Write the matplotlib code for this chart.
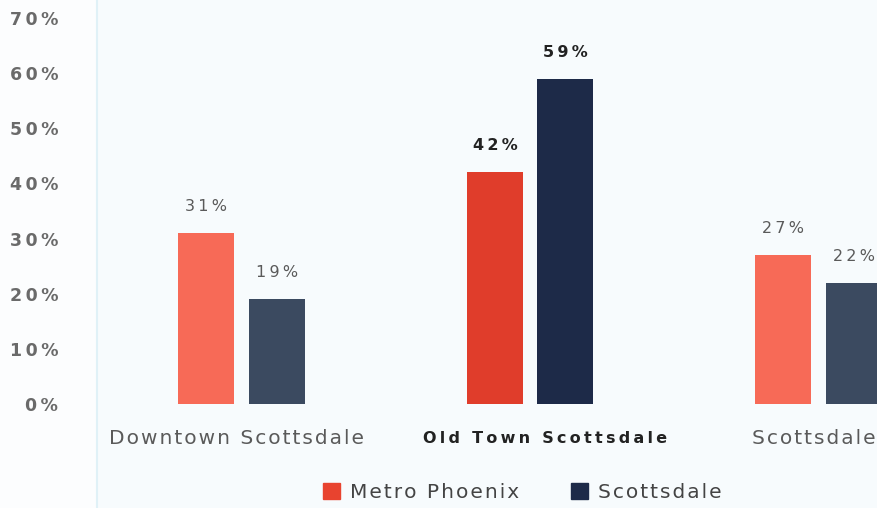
import matplotlib
matplotlib.use("Agg")
import matplotlib.pyplot as plt
from matplotlib.patches import Patch

# Share of respondents by area
categories = ["Downtown Scottsdale", "Old Town Scottsdale", "Scottsdale"]
metro_phoenix = [31, 42, 27]
scottsdale = [19, 59, 22]
y_ticks = [0, 10, 20, 30, 40, 50, 60, 70]
highlight = 1  # Old Town is the featured area

metro_soft, metro_strong = "#f76a57", "#e03d2b"
scot_soft, scot_strong = "#3b4a60", "#1d2a48"

HAIR, THIN = "\u200a", "\u2009"


def spaced(s, gap=HAIR):
    # Widen the tracking of a label
    return gap.join(s)


fig = plt.figure(figsize=(8.77, 5.08), dpi=100)
fig.patch.set_facecolor("#fcfdfe")
ax = fig.add_axes([97 / 877, 0, 1 - 97 / 877, 1])
ax.set_facecolor("#f7fbfd")

x = list(range(len(categories)))
w = 0.194
off = 0.1215
for i in x:
    hot = i == highlight
    ax.bar(i - off, metro_phoenix[i], w, color=metro_strong if hot else metro_soft)
    ax.bar(i + off, scottsdale[i], w, color=scot_strong if hot else scot_soft)
    for dx, v in ((-off, metro_phoenix[i]), (off, scottsdale[i])):
        ax.annotate(spaced(f"{v}%", THIN), (i + dx, v), xytext=(0, 19),
                    textcoords="offset points", ha="center", va="center",
                    fontsize=11.5, fontweight="bold" if hot else "normal",
                    color="#222222" if hot else "#5a5a5a")
    if hot:
        ax.text(i + 0.052, -6.2, spaced(categories[i], THIN),
                ha="center", va="center", fontsize=11.5, fontweight="bold",
                color="#222222")
    else:
        ax.text(i - 0.018, -6.2, spaced(categories[i]), ha="center",
                va="center", fontsize=14.5, color="#5a5a5a")

ax.set_xlim(-0.5009, 2.2027)
ax.set_ylim(-18.86, 73.26)
ax.set_yticks(y_ticks)
ax.set_yticklabels([spaced(f"{t}%", THIN) for t in y_ticks], fontsize=12.5,
                   fontweight="bold", color="#6a6a6a")
ax.tick_params(axis="y", length=0, pad=28)
ax.set_xticks([])
for s in ("top", "right", "bottom"):
    ax.spines[s].set_visible(False)
ax.spines["left"].set_color("#e0f1f7")
ax.spines["left"].set_linewidth(1.5)

handles = [Patch(color="#e8432f", label=spaced("Metro Phoenix")),
           Patch(color=scot_strong, label=spaced("Scottsdale"))]
fig.legend(handles=handles, loc="center", bbox_to_anchor=(0.5955, 0.03),
           ncol=2, frameon=False, fontsize=14.5, handlelength=0.85,
           handleheight=0.85, handletextpad=0.5, columnspacing=2.6,
           labelcolor="#444444")

fig.savefig("out.png", dpi=100, facecolor=fig.get_facecolor())
